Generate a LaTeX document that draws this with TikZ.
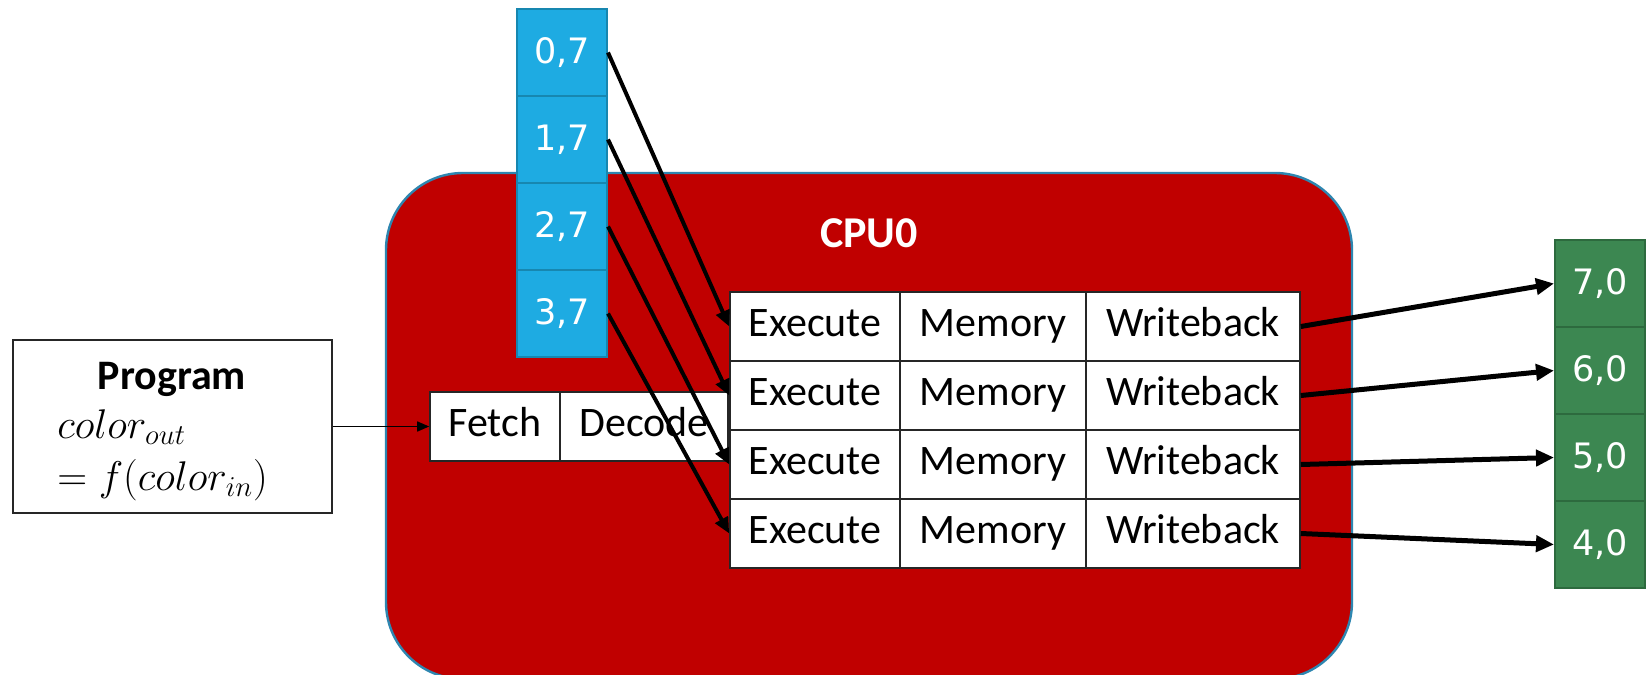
\documentclass[tikz,border=0pt]{standalone}
\usepackage{fontspec}
\setmainfont{Carlito}
\newfontfamily\cellfont{DejaVu Sans}
\usetikzlibrary{arrows.meta}
\definecolor{cpured}{HTML}{C00000}
\definecolor{cpuedge}{HTML}{2E86B0}
\definecolor{inblue}{HTML}{1EABE2}
\definecolor{inedge}{HTML}{1787B0}
\definecolor{outgreen}{HTML}{3C8751}
\definecolor{outedge}{HTML}{2D6A3E}
\begin{document}
\begin{tikzpicture}[x=0.5pt,y=-0.5pt,
  stage/.style={draw=black!85, line width=0.8pt, fill=white, inner sep=0pt,
    minimum height=34.5pt, font=\fontsize{21}{25}\selectfont,
    text height=14.5pt, text depth=4.5pt},
  incell/.style={draw=inedge, line width=1pt, fill=inblue, text=white, inner sep=0pt,
    minimum width=45pt, minimum height=43.5pt, font=\cellfont\fontsize{17.5}{21}\selectfont},
  outcell/.style={draw=outedge, line width=1pt, fill=outgreen, text=white, inner sep=0pt,
    minimum width=45pt, minimum height=43.5pt, font=\cellfont\fontsize{17.5}{21}\selectfont},
  inarrow/.style={line width=2pt, -{Triangle[length=8pt,width=7pt]}},
  outarrow/.style={line width=2.5pt, -{Triangle[length=9pt,width=8pt]}},
  progarrow/.style={line width=0.8pt, -{Triangle[length=6pt,width=5pt]}},
]
\useasboundingbox (0,0) rectangle (1646,675);

% CPU box
\path[draw=cpuedge, line width=1.2pt, fill=cpured, rounded corners=38.5pt]
  (386,173) rectangle (1352,679);
\node[font=\bfseries\fontsize{22}{26}\selectfont, text=white, anchor=base] (cpulabel) at (869,247) {CPU0};

% input cells
\node[incell] (b0) at (562,52.5) {0,7};
\node[incell] (b1) at (562,139.5) {1,7};
\node[incell] (b2) at (562,226.5) {2,7};
\node[incell] (b3) at (562,313.5) {3,7};

% output cells
\node[outcell] (g0) at (1600,283.5) {7,0};
\node[outcell] (g1) at (1600,370.5) {6,0};
\node[outcell] (g2) at (1600,457.5) {5,0};
\node[outcell] (g3) at (1600,544.5) {4,0};

% program
\node[draw=black!85, line width=0.8pt, fill=white, minimum width=159.5pt, minimum height=86.5pt] (prog) at (172.5,426.5) {};
\node[font=\bfseries\fontsize{21}{25}\selectfont, anchor=base] (ptitle) at (172,389) {Program};
\node[font=\fontsize{22}{26}\selectfont, anchor=base west, inner sep=0pt] (pm1) at (57,438) {$color_{out}$};
\node[font=\fontsize{22}{26}\selectfont, anchor=base west, inner sep=0pt] (pm2) at (57,490) {$= f(color_{in})$};

% fetch / decode
\node[stage, minimum width=65pt] (fetch) at (495,426.5) {Fetch};
\node[stage, minimum width=84pt] (decode) at (644,426.5) {Decode};

% pipeline grid
\foreach \i/\y in {0/326.5,1/395.5,2/464.5,3/533.5}{
  \node[stage, minimum width=85pt] (e\i) at (815,\y) {Execute};
  \node[stage, minimum width=93pt] (m\i) at (993,\y) {Memory};
  \node[stage, minimum width=107pt] (w\i) at (1193,\y) {Writeback};
}

% connectors
\draw[progarrow] (prog.east) -- (fetch.west);
\foreach \i in {0,1,2,3}{
  \draw[inarrow] (b\i.east) -- (e\i.west);
  \draw[outarrow] (w\i.east) -- (g\i.west);
}
\end{tikzpicture}
\end{document}
